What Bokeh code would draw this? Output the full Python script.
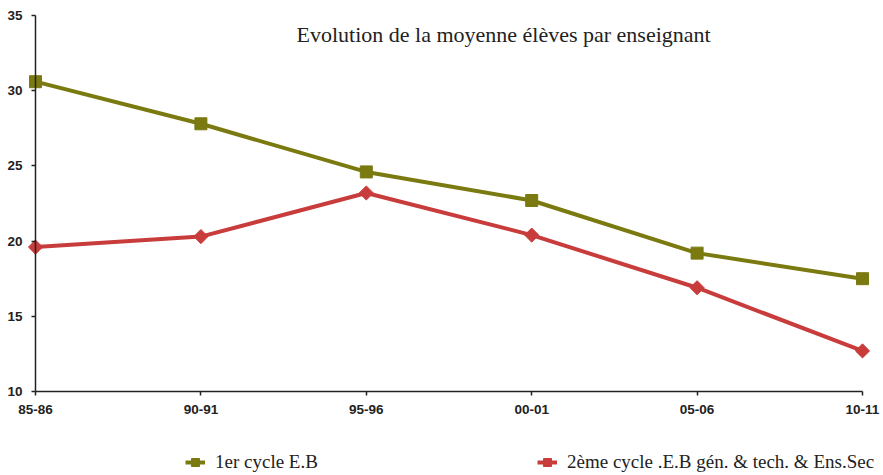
from math import pi
from bokeh.plotting import figure
from bokeh.models import Legend, LegendItem, Label, FixedTicker, Range1d
from bokeh.embed import file_html
from bokeh.resources import INLINE

categories = ["85-86", "90-91", "95-96", "00-01", "05-06", "10-11"]
cycle1 = [30.6, 27.8, 24.6, 22.7, 19.2, 17.5]
cycle2 = [19.6, 20.3, 23.2, 20.4, 16.9, 12.7]
y_ticks = [10, 15, 20, 25, 30, 35]
title_text = "Evolution de la moyenne élèves par enseignant"
name1 = "1er cycle E.B"
name2 = "2ème cycle .E.B gén. & tech. & Ens.Sec"

xs = list(range(len(categories)))

OLIVE = "#7a7a10"
RED = "#c83c3c"
W, H = 882, 474
# plot box in pixels: x from 35 (first category) to 862 (last), y 35 at 15px, 10 at 391px
px_x = (862 - 35) / (len(categories) - 1)
px_y = (391 - 15) / (35 - 10)
x0 = -35 / px_x
x1 = x0 + W / px_x
y1 = 35 + 15 / px_y
y0 = y1 - H / px_y

p = figure(width=W, height=H, output_backend="svg", toolbar_location=None,
           x_range=Range1d(x0, x1), y_range=Range1d(y0, y1), min_border=0)
p.outline_line_color = None
p.xgrid.visible = False
p.ygrid.visible = False

for ax in (p.xaxis, p.yaxis):
    ax.axis_line_color = "#222222"
    ax.axis_line_width = 1.5
    ax.major_tick_line_color = "#222222"
    ax.major_tick_line_width = 1.5
    ax.major_tick_out = 4
    ax.major_tick_in = 0
    ax.minor_tick_line_color = None
    ax.major_label_text_font = "Liberation Sans"
    ax.major_label_text_font_style = "bold"
    ax.major_label_text_font_size = "13.5px"
    ax.major_label_text_color = "#222222"
    ax.major_label_standoff = 9

p.xaxis.ticker = FixedTicker(ticks=xs)
p.xaxis.major_label_overrides = {i: c for i, c in enumerate(categories)}
p.xaxis.bounds = (0, len(categories) - 1)
p.xaxis.fixed_location = 10
p.yaxis.ticker = FixedTicker(ticks=y_ticks)
p.yaxis.bounds = (10, 35)
p.yaxis.fixed_location = 0

l1 = p.line(xs, cycle1, line_color=OLIVE, line_width=4)
m1 = p.scatter(xs, cycle1, marker="square", size=12, fill_color=OLIVE, line_color=OLIVE)
l2 = p.line(xs, cycle2, line_color=RED, line_width=4)
m2 = p.scatter(xs, cycle2, marker="square", angle=pi / 4, size=10,
               fill_color=RED, line_color=RED)

p.add_layout(Label(x=2.83, y=33.75, text=title_text, text_font="Liberation Serif",
                   text_font_size="22px", text_color="#222222",
                   text_align="center", text_baseline="middle"))

common = dict(label_text_font="Liberation Serif", label_text_font_size="19px",
              label_text_color="#222222", border_line_color=None,
              background_fill_alpha=0, glyph_width=20, glyph_height=20,
              label_standoff=10, padding=0, margin=0)
p.add_layout(Legend(items=[LegendItem(label=name1, renderers=[l1, m1])],
                    location=(185, 1), **common))
p.add_layout(Legend(items=[LegendItem(label=name2, renderers=[l2, m2])],
                    location=(537, 1), **common))

open("out.html", "w").write(file_html(p, INLINE))
